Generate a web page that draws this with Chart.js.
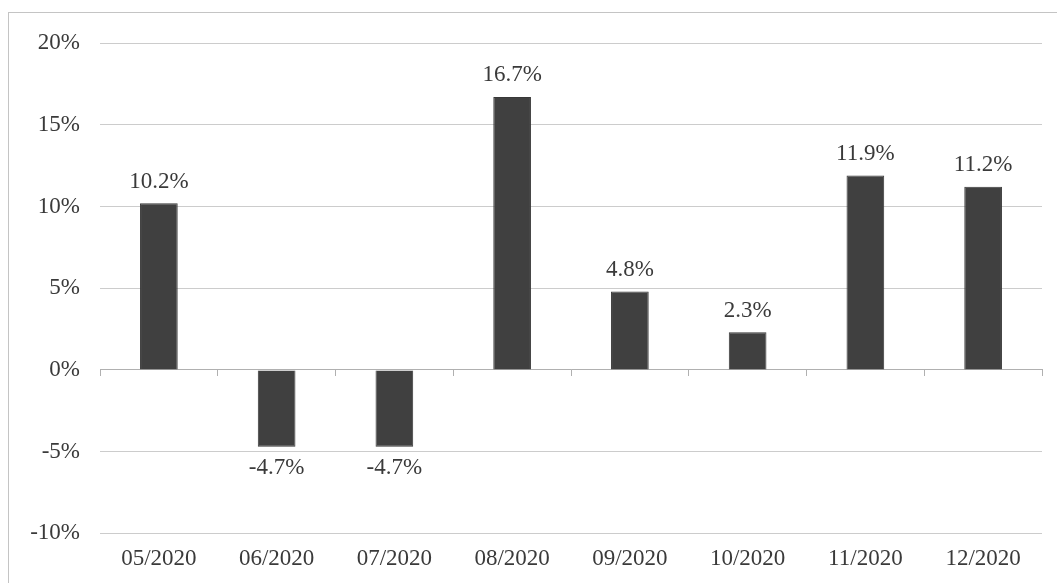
<!DOCTYPE html>
<html>
<head>
<meta charset="utf-8">
<script src="https://cdn.jsdelivr.net/npm/chart.js@4.4.1/dist/chart.umd.min.js"></script>
<style>
  html, body { margin: 0; padding: 0; background: #fff; }
  #wrap { position: relative; width: 1057px; height: 583px; overflow: hidden; }
  #frame { position: absolute; left: 8px; top: 12px; width: 1100px; height: 600px;
           border-left: 1px solid #c4c4c4; border-top: 1px solid #c4c4c4; }
  canvas { position: absolute; left: 0; top: 0; }
</style>
</head>
<body>
<div id="wrap">
  <div id="frame"></div>
  <canvas id="chart" width="1057" height="583"></canvas>
</div>
<script>
// monthly returns
const months = ['05/2020', '06/2020', '07/2020', '08/2020', '09/2020', '10/2020', '11/2020', '12/2020'];
const returns = [10.2, -4.7, -4.7, 16.7, 4.8, 2.3, 11.9, 11.2];

const yMin = -10;
const yMax = 20;
const yStep = 5;

const fontFamily = '"Liberation Serif", "DejaVu Serif", serif';
const textColor = '#3a3a3a';

// value labels above / below the bars
const valueLabels = {
    id: 'valueLabels',
    afterDatasetsDraw(chart) {
        const ctx = chart.ctx;
        const meta = chart.getDatasetMeta(0);
        ctx.save();
        ctx.font = '23px ' + fontFamily;
        ctx.fillStyle = textColor;
        ctx.textAlign = 'center';
        meta.data.forEach((bar, i) => {
            const v = returns[i];
            const txt = v.toFixed(1) + '%';
            if (v >= 0) {
                ctx.textBaseline = 'bottom';
                ctx.fillText(txt, bar.x, bar.y - 10);
            } else {
                ctx.textBaseline = 'top';
                ctx.fillText(txt, bar.x, bar.y + 10);
            }
        });
        ctx.restore();
    }
};

const ctx = document.getElementById('chart').getContext('2d');
const chart = new Chart(ctx, {
    type: 'bar',
    data: {
        labels: months,
        datasets: [{
            data: returns,
            backgroundColor: '#404040',
            borderColor: '#383838',
            borderWidth: 1,
            categoryPercentage: 0.32,
            barPercentage: 1.0
        }]
    },
    options: {
        responsive: false,
        animation: false,
        layout: { padding: { left: 0, right: 15, top: 43, bottom: 6 } },
        plugins: {
            legend: { display: false },
            tooltip: { enabled: false }
        },
        scales: {
            x: {
                grid: { display: false },
                border: { display: false },
                ticks: {
                    color: textColor,
                    font: { family: fontFamily, size: 23 },
                    padding: 4
                }
            },
            zero: {
                type: 'category',
                axis: 'x',
                labels: months,
                position: { y: 0 },
                offset: true,
                grid: {
                    offset: true,
                    drawOnChartArea: false,
                    drawTicks: true,
                    tickLength: 6,
                    color: '#b0b0b0'
                },
                border: { display: true, color: '#b0b0b0' },
                ticks: { display: false }
            },
            y: {
                min: yMin,
                max: yMax,
                afterFit(scale) { scale.width = 100; },
                ticks: {
                    stepSize: yStep,
                    color: textColor,
                    padding: 20,
                    font: { family: fontFamily, size: 23 },
                    callback: v => v + '%'
                },
                grid: {
                    color: '#cccccc',
                    drawTicks: false
                },
                border: { display: false }
            }
        }
    },
    plugins: [valueLabels]
});
</script>
</body>
</html>
